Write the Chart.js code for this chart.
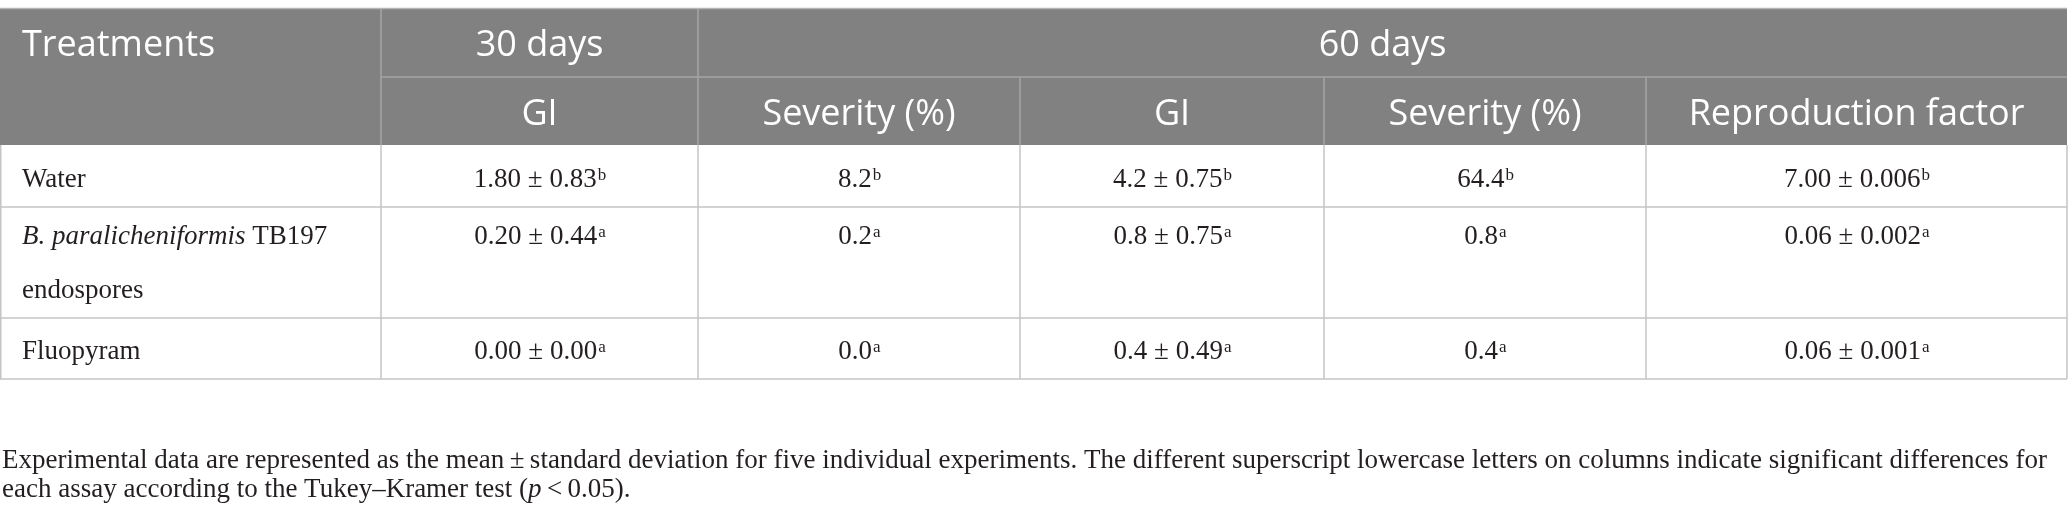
<!DOCTYPE html>
<html>
<head>
<meta charset="utf-8">
<script src="https://cdn.jsdelivr.net/npm/chart.js@4/dist/chart.umd.min.js"></script>
<style>
  html, body { margin: 0; padding: 0; background: #ffffff; overflow: hidden; }
  #wrap { width: 2068px; height: 523px; }
  canvas { display: block; }
</style>
</head>
<body>
<div id="wrap"><canvas id="c" width="2068" height="523"></canvas></div>
<script>
// ---------------- DATA ----------------
const treatments = ['Water', 'B. paralicheniformis TB197 endospores', 'Fluopyram'];
// how each treatment label is typeset: lines of [text, italic] segments
const treatmentLines = [
  [[['Water', false]]],
  [[['B. paralicheniformis', true], [' TB197', false]], [['endospores', false]]],
  [[['Fluopyram', false]]]
];
const headerFirst = 'Treatments';
const groupHeaders = ['30 days', '60 days'];
const groupSpans = [1, 4];
const subHeaders = ['GI', 'Severity (%)', 'GI', 'Severity (%)', 'Reproduction factor'];

const gi30Mean = [1.80, 0.20, 0.00];
const gi30Sd = [0.83, 0.44, 0.00];
const gi30Letter = ['b', 'a', 'a'];
const sev30 = [8.2, 0.2, 0.0];
const sev30Letter = ['b', 'a', 'a'];
const gi60Mean = [4.2, 0.8, 0.4];
const gi60Sd = [0.75, 0.75, 0.49];
const gi60Letter = ['b', 'a', 'a'];
const sev60 = [64.4, 0.8, 0.4];
const sev60Letter = ['b', 'a', 'a'];
const rfMean = [7.00, 0.06, 0.06];
const rfSd = [0.006, 0.002, 0.001];
const rfLetter = ['b', 'a', 'a'];

const footnoteLine1 = 'Experimental data are represented as the mean\u2009\u00B1\u2009standard deviation for five individual experiments. The different superscript lowercase letters on columns indicate significant differences for';
const footnoteLine2 = [['each assay according to the Tukey\u2013Kramer test (', false], ['p', true], ['\u2009<\u20090.05).', false]];

// ---------------- LAYOUT / STYLE ----------------
const colEdges = [0, 381, 698, 1020, 1324, 1646, 2067];
const headRows = [9, 77, 145];
const bodyRows = [145, 207, 318, 379];
const colFormats = [[2, 2], [1], [1, 2], [1], [2, 3]];
const HEAD_BG = '#808180';
const HEAD_LINE = '#a6a6a6';
const BODY_LINE = '#c4c4c4';
const TEXT = '#231f20';
const HEAD_FONT = '36px "Open Sans"';
const BODY_FONT = '27px "Liberation Serif"';
const BODY_IT = 'italic 27px "Liberation Serif"';
const SUP_FONT = '17px "Liberation Serif"';

function cellColumns() {
  return [
    { mean: gi30Mean, sd: gi30Sd, letter: gi30Letter },
    { mean: sev30, sd: null, letter: sev30Letter },
    { mean: gi60Mean, sd: gi60Sd, letter: gi60Letter },
    { mean: sev60, sd: null, letter: sev60Letter },
    { mean: rfMean, sd: rfSd, letter: rfLetter }
  ];
}

const tablePlugin = {
  id: 'tablePlugin',
  afterDraw(chart) {
    const ctx = chart.ctx;
    const X = v => chart.scales.x.getPixelForValue(v);
    const Y = v => chart.scales.y.getPixelForValue(v);
    ctx.save();

    // header background
    ctx.fillStyle = HEAD_BG;
    ctx.fillRect(X(colEdges[0]), Y(headRows[0]), X(colEdges[6]) - X(colEdges[0]), Y(headRows[2]) - Y(headRows[0]));

    function hline(x0, x1, y, color) {
      ctx.strokeStyle = color; ctx.lineWidth = 1.5;
      ctx.beginPath(); ctx.moveTo(X(x0), Y(y)); ctx.lineTo(X(x1), Y(y)); ctx.stroke();
    }
    function vline(x, y0, y1, color) {
      ctx.strokeStyle = color; ctx.lineWidth = 1.5;
      ctx.beginPath(); ctx.moveTo(X(x), Y(y0)); ctx.lineTo(X(x), Y(y1)); ctx.stroke();
    }

    // header lines
    hline(colEdges[0], colEdges[6], headRows[0] - 0.5, '#b4b4b4');
    hline(colEdges[1], colEdges[6], headRows[1], HEAD_LINE);
    vline(colEdges[1], headRows[0], headRows[2], HEAD_LINE);
    vline(colEdges[2], headRows[0], headRows[2], HEAD_LINE);
    for (let i = 3; i < 6; i++) vline(colEdges[i], headRows[1], headRows[2], HEAD_LINE);

    // body lines
    for (let r = 1; r < bodyRows.length; r++) hline(colEdges[0], colEdges[6], bodyRows[r], BODY_LINE);
    for (let i = 0; i < colEdges.length; i++) vline(colEdges[i] + (i === 0 ? 0.75 : 0), bodyRows[0], bodyRows[bodyRows.length - 1], BODY_LINE);

    // header text
    ctx.fillStyle = '#ffffff';
    ctx.font = HEAD_FONT;
    ctx.textBaseline = 'alphabetic';
    ctx.textAlign = 'left';
    ctx.fillText(headerFirst, X(22), Y(56));
    ctx.textAlign = 'center';
    let ci = 1;
    groupHeaders.forEach((g, k) => {
      const x0 = colEdges[ci], x1 = colEdges[ci + groupSpans[k]];
      ctx.fillText(g, (X(x0) + X(x1)) / 2, Y(56));
      ci += groupSpans[k];
    });
    subHeaders.forEach((s, k) => {
      ctx.fillText(s, (X(colEdges[k + 1]) + X(colEdges[k + 2])) / 2, Y(125));
    });

    // body text
    ctx.fillStyle = TEXT;
    ctx.textAlign = 'left';
    const firstBaseline = [187, 244, 359];
    const lineGap = 54;
    treatments.forEach((t, r) => {
      treatmentLines[r].forEach((line, li) => {
        let x = X(22);
        const y = Y(firstBaseline[r] + li * lineGap);
        line.forEach(([txt, it]) => {
          ctx.font = it ? BODY_IT : BODY_FONT;
          ctx.fillText(txt, x, y);
          x += ctx.measureText(txt).width;
        });
      });
    });

    const cols = cellColumns();
    cols.forEach((col, k) => {
      const fmt = colFormats[k];
      const cx = (X(colEdges[k + 1]) + X(colEdges[k + 2])) / 2;
      treatments.forEach((t, r) => {
        let main = col.mean[r].toFixed(fmt[0]);
        if (col.sd) main += ' \u00B1 ' + col.sd[r].toFixed(fmt[1]);
        const sup = col.letter[r];
        ctx.font = BODY_FONT;
        const w1 = ctx.measureText(main).width;
        ctx.font = SUP_FONT;
        const w2 = ctx.measureText(sup).width;
        const x0 = cx - (w1 + w2) / 2;
        const y = Y(firstBaseline[r]);
        ctx.font = BODY_FONT;
        ctx.fillText(main, x0, y);
        ctx.font = SUP_FONT;
        ctx.fillText(sup, x0 + w1 + 1, y - 7);
      });
    });

    // footnote
    ctx.font = BODY_FONT;
    ctx.fillText(footnoteLine1, X(2), Y(468));
    let fx = X(2);
    footnoteLine2.forEach(([txt, it]) => {
      ctx.font = it ? BODY_IT : BODY_FONT;
      ctx.fillText(txt, fx, Y(497));
      fx += ctx.measureText(txt).width;
    });

    ctx.restore();
  }
};

function build() {
  new Chart(document.getElementById('c'), {
    type: 'scatter',
    data: { datasets: [{ data: [], pointRadius: 0 }] },
    options: {
      responsive: false,
      animation: false,
      devicePixelRatio: 1,
      layout: { padding: 0 },
      plugins: { legend: { display: false }, tooltip: { enabled: false }, title: { display: false } },
      scales: {
        x: { type: 'linear', min: 0, max: 2068, display: false },
        y: { type: 'linear', min: 0, max: 523, reverse: true, display: false }
      }
    },
    plugins: [tablePlugin]
  });
}

Promise.all([
  document.fonts.load(HEAD_FONT),
  document.fonts.load(BODY_FONT),
  document.fonts.load(BODY_IT),
  document.fonts.load(SUP_FONT)
]).then(build, build);
</script>
</body>
</html>
